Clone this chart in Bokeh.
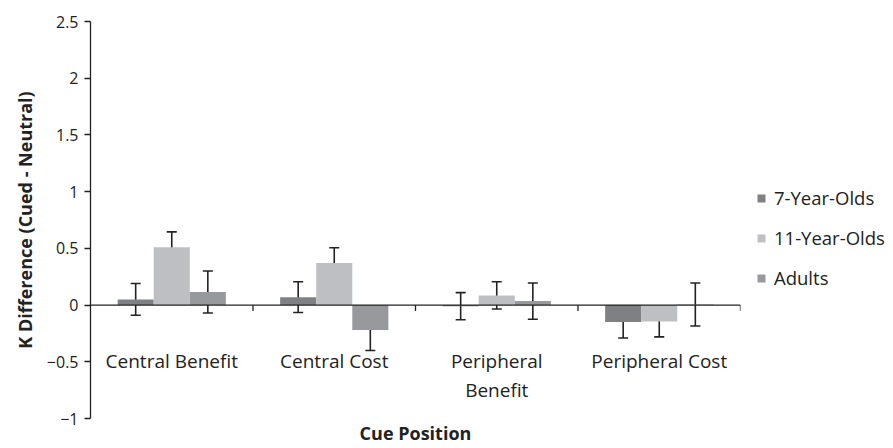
from bokeh.plotting import figure
from bokeh.models import (ColumnDataSource, Whisker, Legend, LegendItem, LinearAxis,
                          FixedTicker, CustomJSTickFormatter, Range1d, Span)
from bokeh.core.properties import value
from bokeh.embed import file_html
from bokeh.resources import INLINE

categories = ["Central Benefit", "Central Cost", "Peripheral\nBenefit", "Peripheral Cost"]
series = ["7-Year-Olds", "11-Year-Olds", "Adults"]
vals_7 = [0.05, 0.07, -0.01, -0.15]
err_7 = [0.14, 0.135, 0.12, 0.14]
vals_11 = [0.51, 0.37, 0.085, -0.145]
err_11 = [0.135, 0.135, 0.12, 0.135]
vals_ad = [0.115, -0.22, 0.035, 0.005]
err_ad = [0.185, 0.18, 0.16, 0.19]
colors = ["#7f8084", "#bebfc3", "#98999d"]
y_ticks = [-1, -0.5, 0, 0.5, 1, 1.5, 2, 2.5]

FONT = "Open Sans"
INK = "#222222"
bar_w = 0.222
offsets = [-bar_w, 0.0, bar_w]
y_lo, y_hi = -1, 2.5
frame_h = 397

p = figure(width=893, height=448, output_backend="svg", toolbar_location=None,
           x_range=Range1d(0, len(categories)), y_range=Range1d(y_lo, y_hi),
           frame_width=650, frame_height=frame_h,
           min_border_left=90, min_border_right=153, min_border_top=21, min_border_bottom=30,
           x_axis_type=None, y_axis_type=None)
p.outline_line_color = None
p.grid.visible = False

centers = [i + 0.5 for i in range(len(categories))]
renderers = []
for k, (vals, errs) in enumerate([(vals_7, err_7), (vals_11, err_11), (vals_ad, err_ad)]):
    xs = [c + offsets[k] for c in centers]
    src = ColumnDataSource(dict(x=xs, top=vals,
                                upper=[v + e for v, e in zip(vals, errs)],
                                lower=[v - e for v, e in zip(vals, errs)]))
    r = p.vbar(x="x", top="top", bottom=0, width=bar_w, source=src,
               fill_color=colors[k], line_color=None)
    renderers.append((r, src))

# zero line and category separator ticks
p.add_layout(Span(location=0, dimension="width", line_color=INK, line_width=1.3))
seps = [i + 1 for i in range(len(categories))]
tick_len = 6 * (y_hi - y_lo) / frame_h
p.segment(x0=seps, x1=seps, y0=[0] * len(seps), y1=[-tick_len] * len(seps),
          line_color=INK, line_width=1.3)

for r, src in renderers:
    w = Whisker(base="x", upper="upper", lower="lower", source=src,
                line_color=INK, line_width=1.6)
    for h in (w.upper_head, w.lower_head):
        h.size = 10
        h.line_width = 1.6
        h.line_color = INK
    p.add_layout(w)

# category labels under the zero line
p.text(x=centers, y=[0] * len(categories), text=categories, y_offset=43,
       text_align="center", text_baseline="top", text_font=value(FONT),
       text_font_size="19px", text_color=INK, text_line_height=1.1)

bottom = LinearAxis(axis_label="Cue Position", ticker=FixedTicker(ticks=[]),
                    axis_line_color=None, major_tick_line_color=None,
                    major_tick_out=0, major_tick_in=0, major_label_standoff=0,
                    minor_tick_line_color=None, axis_label_standoff=2,
                    axis_label_text_font=FONT, axis_label_text_font_size="18px",
                    axis_label_text_font_style="bold", axis_label_text_color=INK)
p.add_layout(bottom, "below")

left = LinearAxis(axis_label="K Difference (Cued - Neutral)",
                  ticker=FixedTicker(ticks=y_ticks),
                  formatter=CustomJSTickFormatter(code="return tick < 0 ? '\\u2212' + Math.abs(tick) : String(tick);"),
                  axis_line_color=INK, axis_line_width=1.3,
                  major_tick_in=0, major_tick_out=6, major_tick_line_color=INK,
                  major_tick_line_width=1.3, minor_tick_line_color=None,
                  major_label_text_font=FONT, major_label_text_font_size="16px",
                  major_label_text_color=INK, major_label_standoff=6,
                  axis_label_text_font=FONT, axis_label_text_font_size="18px",
                  axis_label_text_font_style="bold", axis_label_text_color=INK,
                  axis_label_standoff=7)
p.add_layout(left, "left")

items = [LegendItem(label=series[k], renderers=[renderers[k][0]]) for k in range(3)]
legend = Legend(items=items, location=(16, 128), orientation="vertical",
                glyph_width=10, glyph_height=10, label_height=22, spacing=15,
                padding=0, margin=0, border_line_color=None, background_fill_alpha=0,
                label_text_font=FONT, label_text_font_size="18.5px",
                label_text_color=INK, label_standoff=8)
p.add_layout(legend, "right")

open("out.html", "w").write(file_html(p, INLINE))
